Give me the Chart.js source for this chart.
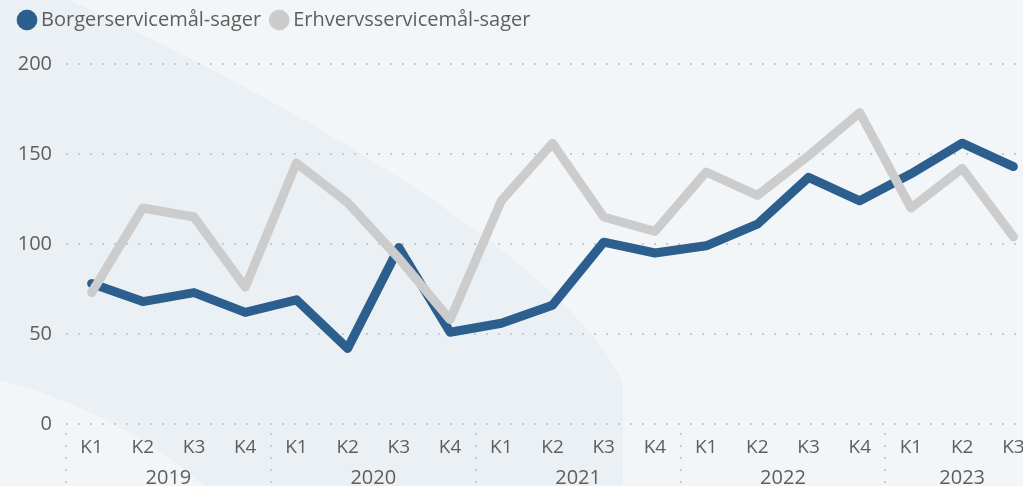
<!DOCTYPE html>
<html>
<head>
<meta charset="utf-8">
<script src="https://cdn.jsdelivr.net/npm/chart.js@4"></script>
<style>
  html, body { margin: 0; padding: 0; overflow: hidden; background: #f3f6f9; }
  #wrap { position: absolute; left: 0; top: 0; width: 1039px; height: 486px; }
</style>
</head>
<body>
<div id="wrap"><canvas id="case-chart"></canvas></div>
<script>
// Data
const quarters = ['K1', 'K2', 'K3', 'K4', 'K1', 'K2', 'K3', 'K4', 'K1', 'K2', 'K3', 'K4', 'K1', 'K2', 'K3', 'K4', 'K1', 'K2', 'K3'];
const years = ['2019', '2019', '2019', '2019', '2020', '2020', '2020', '2020', '2021', '2021', '2021', '2021', '2022', '2022', '2022', '2022', '2023', '2023', '2023'];
const borgerservice = [78, 68, 73, 62, 69, 42, 98, 51, 56, 66, 101, 95, 99, 111, 137, 124, 139, 156, 143];
const erhvervsservice = [73, 120, 115, 76, 145, 123, 92, 58, 124, 156, 115, 107, 140, 127, 149, 173, 120, 142, 104];
const yTicks = [0, 50, 100, 150, 200];

const FONT = "'Open Sans', 'Noto Sans', sans-serif";
const TEXT = '#605e5c';
const DOTS = '#c8ccd1';

// Background shapes (light panel with a soft darker band)
const backdrop = {
    id: 'backdrop',
    beforeDraw(chart) {
        const c = chart.ctx;
        c.save();
        c.fillStyle = '#f3f6f9';
        c.fillRect(0, 0, chart.width, chart.height);
        c.fillStyle = '#ebf0f4';
        c.beginPath();
        c.moveTo(0, 0);
        c.lineTo(69, 0);
        c.bezierCurveTo(300, 105, 570, 265, 623, 383);
        c.lineTo(623, 486);
        c.lineTo(0, 486);
        c.closePath();
        c.fill();
        c.fillStyle = '#f3f6f9';
        c.beginPath();
        c.moveTo(0, 380);
        c.quadraticCurveTo(110, 408, 205, 486);
        c.lineTo(0, 486);
        c.closePath();
        c.fill();
        c.restore();
    }
};

// Year row + dotted separators under the quarter labels
const yearAxis = {
    id: 'yearAxis',
    afterDraw(chart) {
        const x = chart.scales.x;
        const c = chart.ctx;
        const half = (x.getPixelForValue(1) - x.getPixelForValue(0)) / 2;
        const bottom = chart.chartArea.bottom;
        c.save();
        c.font = '20px ' + FONT;
        c.fillStyle = TEXT;
        c.textAlign = 'center';
        c.textBaseline = 'middle';
        c.strokeStyle = DOTS;
        c.lineWidth = 2;
        c.setLineDash([2, 10]);
        let start = 0;
        for (let i = 1; i <= years.length; i++) {
            if (i === years.length || years[i] !== years[start]) {
                const mid = (x.getPixelForValue(start) + x.getPixelForValue(i - 1)) / 2;
                c.fillText(years[start], mid, bottom + 54);
                const sx = Math.round(x.getPixelForValue(start) - half);
                c.beginPath();
                c.moveTo(sx, bottom + 9);
                c.lineTo(sx, chart.height);
                c.stroke();
                start = i;
            }
        }
        c.restore();
    }
};

// Legend needs a fixed height so the plot starts at the right spot
const legendHeight = {
    id: 'legendHeight',
    beforeInit(chart) {
        const fit = chart.legend.fit;
        chart.legend.fit = function () {
            fit.call(this);
            this.height = 68;
        };
    }
};

const ctx = document.getElementById('case-chart');

new Chart(ctx, {
    type: 'line',
    data: {
        labels: quarters,
        datasets: [{
            label: 'Borgerservicemål-sager',
            data: borgerservice,
            borderColor: '#2c5f8d',
            backgroundColor: '#2c5f8d',
            order: 1
        }, {
            label: 'Erhvervsservicemål-sager',
            data: erhvervsservice,
            borderColor: '#cccccc',
            backgroundColor: '#cccccc',
            order: 0
        }]
    },
    options: {
        responsive: true,
        maintainAspectRatio: false,
        animation: false,
        layout: { padding: { left: 9, right: 0, top: -4, bottom: 0 } },
        elements: {
            line: { borderWidth: 9, tension: 0, borderJoinStyle: 'round', borderCapStyle: 'round' },
            point: { radius: 0, hoverRadius: 0 }
        },
        scales: {
            x: {
                offset: true,
                grid: { display: false },
                border: { display: false },
                ticks: {
                    color: TEXT,
                    font: { family: FONT, size: 19 },
                    padding: 4,
                    autoSkip: false,
                    maxRotation: 0
                },
                afterFit: function (scale) { scale.height = 62; }
            },
            y: {
                min: 0,
                max: 200,
                afterBuildTicks: function (scale) {
                    scale.ticks = yTicks.map(v => ({ value: v }));
                },
                grid: {
                    color: DOTS,
                    lineWidth: 2,
                    drawTicks: false
                },
                border: { display: false, dash: [2, 10] },
                ticks: {
                    color: TEXT,
                    font: { family: FONT, size: 20 },
                    padding: 14
                },
                afterFit: function (scale) { scale.width = 57; }
            }
        },
        plugins: {
            legend: {
                position: 'top',
                align: 'start',
                labels: {
                    usePointStyle: true,
                    pointStyle: 'circle',
                    boxWidth: 8,
                    boxHeight: 14,
                    padding: 14,
                    color: TEXT,
                    font: { family: FONT, size: 20 },
                    sort: (a, b) => a.datasetIndex - b.datasetIndex
                }
            },
            tooltip: { enabled: false }
        }
    },
    plugins: [backdrop, yearAxis, legendHeight]
});
</script>
</body>
</html>
